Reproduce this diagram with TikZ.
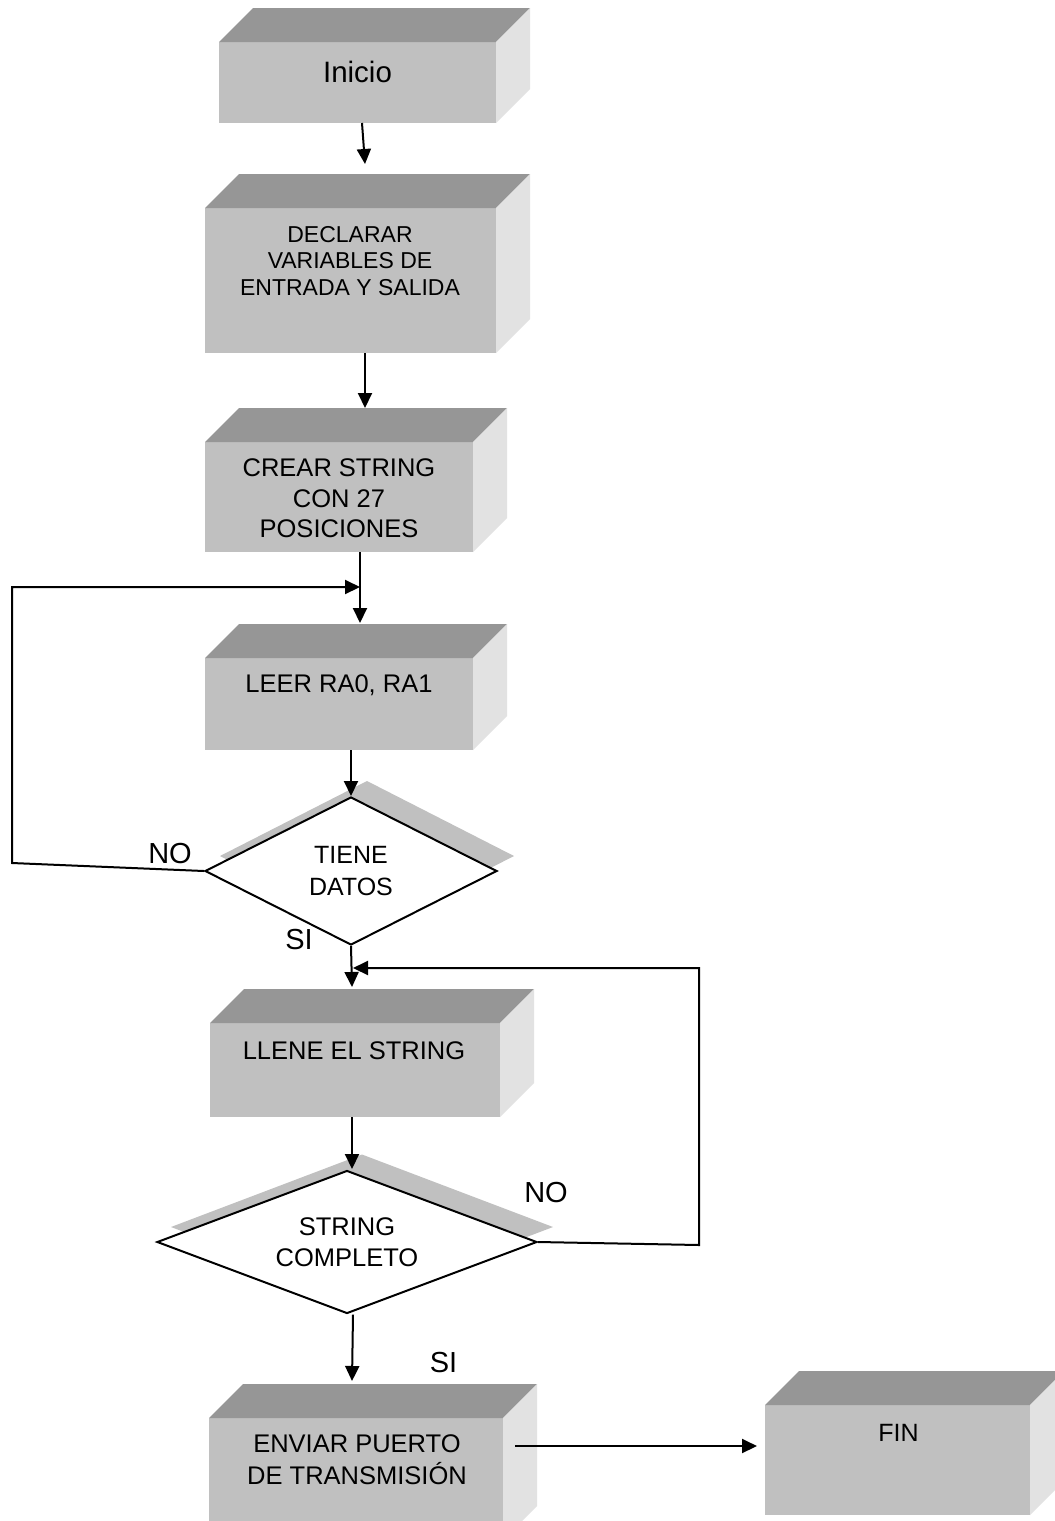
\documentclass[tikz,border=0pt]{standalone}
\usepackage{fontspec}
\setmainfont{Liberation Sans}
\usetikzlibrary{shapes.geometric,arrows.meta,backgrounds}
\definecolor{frontgray}{RGB}{192,192,192}
\definecolor{topgray}{RGB}{150,150,150}
\definecolor{sidegray}{RGB}{226,226,226}
\definecolor{shadowgray}{RGB}{192,192,192}
\newcommand\fsz[2]{\fontsize{#1pt}{#2pt}\selectfont}
\newcommand\solidfaces[2]{%
  \fill[topgray] (#1.north west) -- ++(#2,-#2) -- ([shift={(#2,-#2)}]#1.north east) -- (#1.north east) -- cycle;
  \fill[sidegray] (#1.north east) -- ++(#2,-#2) -- ([shift={(#2,-#2)}]#1.south east) -- (#1.south east) -- cycle;}
\newcommand\dshadow[3]{%
  \fill[shadowgray] ([shift={(#2,#3)}]#1.north) -- ([shift={(#2,#3)}]#1.east) -- ([shift={(#2,#3)}]#1.south) -- ([shift={(#2,#3)}]#1.west) -- cycle;}
\begin{document}
\begin{tikzpicture}[x=1pt,y=-1pt,
  front/.style={rectangle,fill=frontgray,inner sep=0pt,outer sep=0pt},
  lbl/.style={inner sep=0pt,align=center,text=black},
  dec/.style={diamond,draw=black,line width=2pt,fill=white,inner sep=0pt,align=center},
  arr/.style={line width=2pt,-{Triangle[length=15pt,width=14pt]}},
]
\clip (0,0) rectangle (1055,1521);

% boxes
\node[front,minimum width=277pt,minimum height=81pt] (inicio) at (357.5,82.5) {};
\solidfaces{inicio}{34}
\node[front,minimum width=291pt,minimum height=145pt] (declarar) at (350.5,280.5) {};
\solidfaces{declarar}{34}
\node[front,minimum width=268pt,minimum height=110pt] (crear) at (339,497) {};
\solidfaces{crear}{34}
\node[front,minimum width=268pt,minimum height=92pt] (leer) at (339,704) {};
\solidfaces{leer}{34}
\node[front,minimum width=290pt,minimum height=94pt] (llene) at (355,1070) {};
\solidfaces{llene}{34}
\node[front,minimum width=294pt,minimum height=122pt] (enviar) at (356,1479) {};
\solidfaces{enviar}{34}
\node[front,minimum width=265pt,minimum height=110pt] (fin) at (897.5,1460) {};
\solidfaces{fin}{34}

% box texts
\node[lbl,font=\fsz{29.5}{34}] (inicioT) at (357.5,72) {Inicio};
\node[lbl,font=\fsz{23}{26.5}] (declararT) at (350,261) {DECLARAR\\VARIABLES DE\\ENTRADA Y SALIDA};
\node[lbl,font=\fsz{25.5}{30.5}] (crearT) at (339,498.5) {CREAR STRING\\CON 27\\POSICIONES};
\node[lbl,font=\fsz{25.5}{30}] (leerT) at (339,685) {LEER RA0, RA1};
\node[lbl,font=\fsz{25.5}{30}] (lleneT) at (354,1051) {LLENE EL STRING};
\node[lbl,font=\fsz{25.5}{32}] (enviarT) at (357,1460) {ENVIAR PUERTO\\DE TRANSMISIÓN};
\node[lbl,font=\fsz{25}{30}] (finT) at (898.5,1433) {FIN};

% decisions
\node[dec,minimum width=292pt,minimum height=148pt,shape aspect=1.97,font=\fsz{25}{32}] (d1) at (351,871) {TIENE\\DATOS};
\node[dec,minimum width=380pt,minimum height=143pt,shape aspect=2.66,font=\fsz{25.5}{31}] (d2) at (347,1242) {STRING\\COMPLETO};
\begin{scope}[on background layer]
  \fill[white] (0,0) rectangle (1055,1521);
  \dshadow{d1}{16}{-15}
  \dshadow{d2}{15}{-15}
\end{scope}

% labels
\node[lbl,font=\fsz{29}{34}] (no1) at (170,854) {NO};
\node[lbl,font=\fsz{29}{34}] (si1) at (299,940) {SI};
\node[lbl,font=\fsz{29}{34}] (no2) at (546,1193) {NO};
\node[lbl,font=\fsz{29}{34}] (si2) at (443.5,1362) {SI};

% connector end points
\coordinate (t1) at (365,164);
\coordinate (t2) at (365,408);
\coordinate (t3) at (360,623);
\coordinate (j1) at (360,587);
\coordinate (t5) at (352,987);
\coordinate (j2) at (353,968);
\coordinate (t6) at (352,1169);
\coordinate (t7) at (352,1381);
\coordinate (s8) at (515,1446);
\coordinate (t8) at (757,1446);
\coordinate (c1) at (12,863);
\coordinate (c2) at (12,587);
\coordinate (c3) at (699,1245);
\coordinate (c4) at (699,968);

% connectors
\draw[arr] ([xshift=4.5pt]inicio.south) -- (t1);
\draw[arr] ([xshift=14.5pt]declarar.south) -- (t2);
\draw[arr] ([xshift=21pt]crear.south) -- (t3);
\draw[arr] (d1.west) -- (c1) -- (c2) -- (j1);
\draw[arr] ([xshift=12pt]leer.south) -- (d1.north);
\draw[arr] (d1.south) -- (t5);
\draw[arr] (d2.east) -- (c3) -- (c4) -- (j2);
\draw[arr] ([xshift=-3pt]llene.south) -- (t6);
\draw[arr] ([xshift=6pt]d2.south) -- (t7);
\draw[arr] (s8) -- (t8);
\end{tikzpicture}
\end{document}
